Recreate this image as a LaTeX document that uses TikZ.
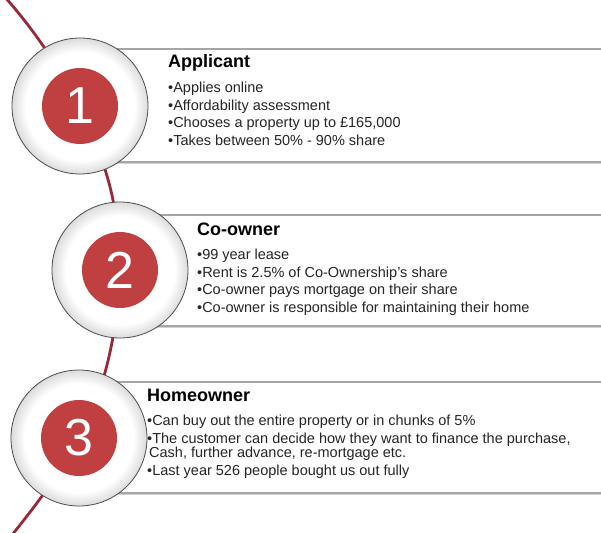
\documentclass[tikz,border=0pt]{standalone}
\usepackage{fontspec}
\setmainfont{Liberation Sans}
\usepackage{tikz}
\usetikzlibrary{positioning}
\usetikzlibrary{shadows}

\definecolor{stepred}{RGB}{192,64,66}
\definecolor{spinered}{RGB}{155,40,55}
\pgfdeclareradialshading{ringshade}{\pgfpointorigin}{color(0bp)=(white); color(20bp)=(white); color(25bp)=(gray!28); color(50bp)=(gray!28)}
\newcommand{\titlefont}{\fontsize{18}{20}\selectfont\bfseries}
\newcommand{\listfont}{\fontsize{14.5}{14.5}\selectfont}

\begin{document}
\begin{tikzpicture}[x=1pt, y=-1pt,%
	panel/.style={draw=gray!70, line width=1.4pt, fill=white, minimum width=560pt,
		anchor=west, inner sep=0pt,
		drop shadow={shadow xshift=0pt, shadow yshift=-2pt, opacity=0.35, fill=gray}},
	ring/.style={circle, draw=gray!60!black, line width=0.8pt, shading=ringshade,
		minimum size=136pt, inner sep=0pt},
	badge/.style={circle, fill=stepred, minimum size=76pt, inner sep=0pt,
		text=white, font=\fontsize{52}{52}\selectfont},
	heading/.style={anchor=base west, inner sep=0pt, font=\titlefont, text=black},
	items/.style={anchor=north west, inner sep=0pt, align=left, font=\listfont, text=black!85},
	spine/.style={draw=spinered, line width=2.8pt}%
	]
	\useasboundingbox (0,0) rectangle (601,532);
	\clip (0,0) rectangle (601,532);
	%
	% Spine
	%
	\coordinate (spinetop) at (4,-4);
	\coordinate (spinebot) at (8,540);
	\draw[spine] (spinetop) .. controls (70,70) and (110,160) .. (116,220)
		.. controls (122,300) and (115,340) .. (100,390)
		.. controls (80,450) and (40,500) .. (spinebot);
	%
	% Panels
	%
	\node[panel, minimum height=113pt] (panel1) at (80,105.5) {};
	\node[panel, minimum height=111pt] (panel2) at (120,270.5) {};
	\node[panel, minimum height=111pt] (panel3) at (79,437.5) {};
	%
	% Steps
	%
	\node[ring] (ring1) at (80,106) {};
	\node[ring] (ring2) at (120,270) {};
	\node[ring] (ring3) at (79,438) {};
	\node[badge] (badge1) at (ring1) {1};
	\node[badge] (badge2) at (ring2) {2};
	\node[badge] (badge3) at (ring3) {3};
	%
	% Texts
	%
	\node[heading] (title1) at (168,68) {Applicant};
	\node[items] (list1) at ([yshift=-14pt]title1.base west)
		{\textbullet Applies online\\[3pt]
		\textbullet Affordability assessment\\[3pt]
		\textbullet Chooses a property up to £165,000\\[3pt]
		\textbullet Takes between 50\% - 90\% share};
	\node[heading] (title2) at (197,235) {Co-owner};
	\node[items] (list2) at ([yshift=-14pt]title2.base west)
		{\textbullet 99 year lease\\[3pt]
		\textbullet Rent is 2.5\% of Co-Ownership's share\\[3pt]
		\textbullet Co-owner pays mortgage on their share\\[3pt]
		\textbullet Co-owner is responsible for maintaining their home};
	\node[heading] (title3) at (147,401) {Homeowner};
	\node[items] (list3) at ([yshift=-14pt]title3.base west)
		{\textbullet Can buy out the entire property or in chunks of 5\%\\[3pt]
		\textbullet The customer can decide how they want to finance the purchase,\\
		\hspace*{2pt}Cash, further advance, re-mortgage etc.\\[3pt]
		\textbullet Last year 526 people bought us out fully};
\end{tikzpicture}
\end{document}
